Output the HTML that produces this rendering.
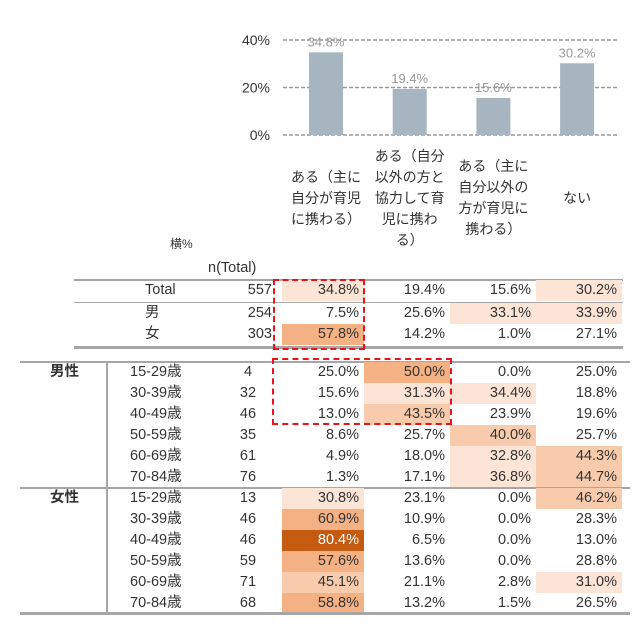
<!DOCTYPE html>
<html><head><meta charset="utf-8">
<style>
html,body{margin:0;padding:0;background:#fff;}
#root{position:relative;width:640px;height:624px;overflow:hidden;font-family:"Liberation Sans","Noto Sans CJK JP",sans-serif;color:#333;font-size:14.5px;}
.t{position:absolute;white-space:nowrap;line-height:21px;}
.c{position:absolute;height:21px;line-height:21px;text-align:right;box-sizing:border-box;padding-right:5px;}
.ln{position:absolute;height:0;}
</style></head><body>
<div id="root">
<svg id="bar" width="640" height="150" style="position:absolute;left:0;top:0"></svg>
<div class="t" style="left:170px;top:234px;font-size:12px">横%</div>
<div class="t" style="left:208px;top:258px">n(Total)</div>
</div>
<script>
const categories=["ある（主に自分が育児に携わる）","ある（自分以外の方と協力して育児に携わる）","ある（主に自分以外の方が育児に携わる）","ない"];
const catLines=[["ある（主に","自分が育児","に携わる）"],["ある（自分","以外の方と","協力して育","児に携わ","る）"],["ある（主に","自分以外の","方が育児に","携わる）"],["ない"]];
const totalValues=[34.8,19.4,15.6,30.2];
const yTicks=[0,20,40];
const rowLabels=["Total","男","女"];
const rowN=[557,254,303];
const rowValues=[[34.8,19.4,15.6,30.2],[7.5,25.6,33.1,33.9],[57.8,14.2,1.0,27.1]];
const ageLabels=["15-29歳","30-39歳","40-49歳","50-59歳","60-69歳","70-84歳"];
const maleN=[4,32,46,35,61,76];
const maleValues=[[25.0,50.0,0.0,25.0],[15.6,31.3,34.4,18.8],[13.0,43.5,23.9,19.6],[8.6,25.7,40.0,25.7],[4.9,18.0,32.8,44.3],[1.3,17.1,36.8,44.7]];
const femaleN=[13,46,46,59,71,68];
const femaleValues=[[30.8,23.1,0.0,46.2],[60.9,10.9,0.0,28.3],[80.4,6.5,0.0,13.0],[57.6,13.6,0.0,28.8],[45.1,21.1,2.8,31.0],[58.8,13.2,1.5,26.5]];

const NS="http://www.w3.org/2000/svg";
const svg=document.getElementById('bar');
const root=document.getElementById('root');
const y0=135,yScale=(135-40)/40;
const yOf=v=>y0-v*yScale;
const xOf=i=>326+i*83.7;
function se(tag,attrs){const e=document.createElementNS(NS,tag);for(const k in attrs)e.setAttribute(k,attrs[k]);svg.appendChild(e);return e;}
yTicks.forEach(t=>{
  const l=se('line',{x1:283,x2:618,y1:yOf(t),y2:yOf(t),stroke:'#999','stroke-dasharray':'4,2','stroke-width':1.5});
  
  
  const tx=se('text',{x:270,y:yOf(t)+5,'text-anchor':'end','font-size':14,fill:'#333'});
  tx.textContent=t+'%';
  
  
});
totalValues.forEach((v,i)=>{
  const r=se('rect',{x:xOf(i)-17,y:yOf(v),width:34,height:y0-yOf(v),fill:'#a6b5c0'});
  
  
  const tx=se('text',{x:xOf(i),y:yOf(v)-6,'text-anchor':'middle','font-size':13,fill:'#999'});
  tx.textContent=v.toFixed(1)+'%';
  
  
});
catLines.forEach((lines,i)=>{
  const d=document.createElement('div');
  d.className='t';
  
  
  d.title=categories[i];
  d.style.cssText='left:'+(xOf(i)-42)+'px;width:84px;text-align:center;font-size:14px;top:'+(198-lines.length*21/2)+'px;white-space:normal';
  d.innerHTML=lines.join('<br>');
  root.appendChild(d);
});
function line(x1,x2,y,h,name){
  const d=document.createElement('div');d.className='ln';
  
  
  d.style.cssText='left:'+x1+'px;width:'+(x2-x1)+'px;top:'+y+'px;border-top:'+h+'px solid #a6a6a6';
  root.appendChild(d);
}
function color(v){
  if(v>=70)return '#c55a11';
  if(v>=50)return '#f4b183';
  if(v>=40)return '#f8cbad';
  if(v>=30)return '#fce4d6';
  return 'transparent';
}
const colL=[282,364,450,536],colR=[364,450,536,622];
function text(s,x,y,name,extra){
  const d=document.createElement('div');d.className='t';
  
  
  d.style.cssText='left:'+x+'px;top:'+y+'px;'+(extra||'');
  d.textContent=s;root.appendChild(d);
}
function cells(vals,y,name){
  vals.forEach((v,j)=>{
    const d=document.createElement('div');d.className='c';
    
    
    d.style.cssText='left:'+colL[j]+'px;width:'+(colR[j]-colL[j])+'px;top:'+y+'px;background:'+color(v)+';'+(v>=70?'color:#fff;':'');
    d.textContent=v.toFixed(1)+'%';
    root.appendChild(d);
  });
}
line(74,623,279,2,'top-table-top-rule');
rowLabels.forEach((lab,i)=>{
  const y=280+i*21+(i>0?2:0);
  text(lab,145,y,'row-label-'+i);
  text(String(rowN[i]),222,y,'row-n-'+i,'width:50px;text-align:right');
  cells(rowValues[i],y,'row-'+i);
});
line(74,623,302,1,'total-rule');
line(74,623,346,3,'top-table-bottom-rule');
line(20,630,361,2,'lower-table-top-rule');
const vd=document.createElement('div');vd.style.cssText='position:absolute;left:106px;top:361px;width:2px;height:251px;background:#a6a6a6';
root.appendChild(vd);
function group(name,label,ns,vals,top){
  text(label,50,top,name+'-label','font-weight:bold');
  ageLabels.forEach((a,i)=>{
    const y=top+i*21;
    text(a,130,y,name+'-age-'+i);
    text(String(ns[i]),232,y,name+'-n-'+i,'width:32px;text-align:center');
    cells(vals[i],y,name+'-row-'+i);
  });
}
group('male','男性',maleN,maleValues,362);
line(20,630,487,2,'group-rule');
group('female','女性',femaleN,femaleValues,488);
line(20,630,612,3,'lower-table-bottom-rule');
function box(x,y,w,h,name){
  const d=document.createElement('div');
  
  
  d.style.cssText='position:absolute;left:'+x+'px;top:'+y+'px;width:'+w+'px;height:'+h+'px;border:2px dashed #e8141a;box-sizing:border-box';
  root.appendChild(d);
}
box(273,279,92,71,'highlight-box-gender');
box(272,358,180,67,'highlight-box-male-young');
</script>
</body></html>
